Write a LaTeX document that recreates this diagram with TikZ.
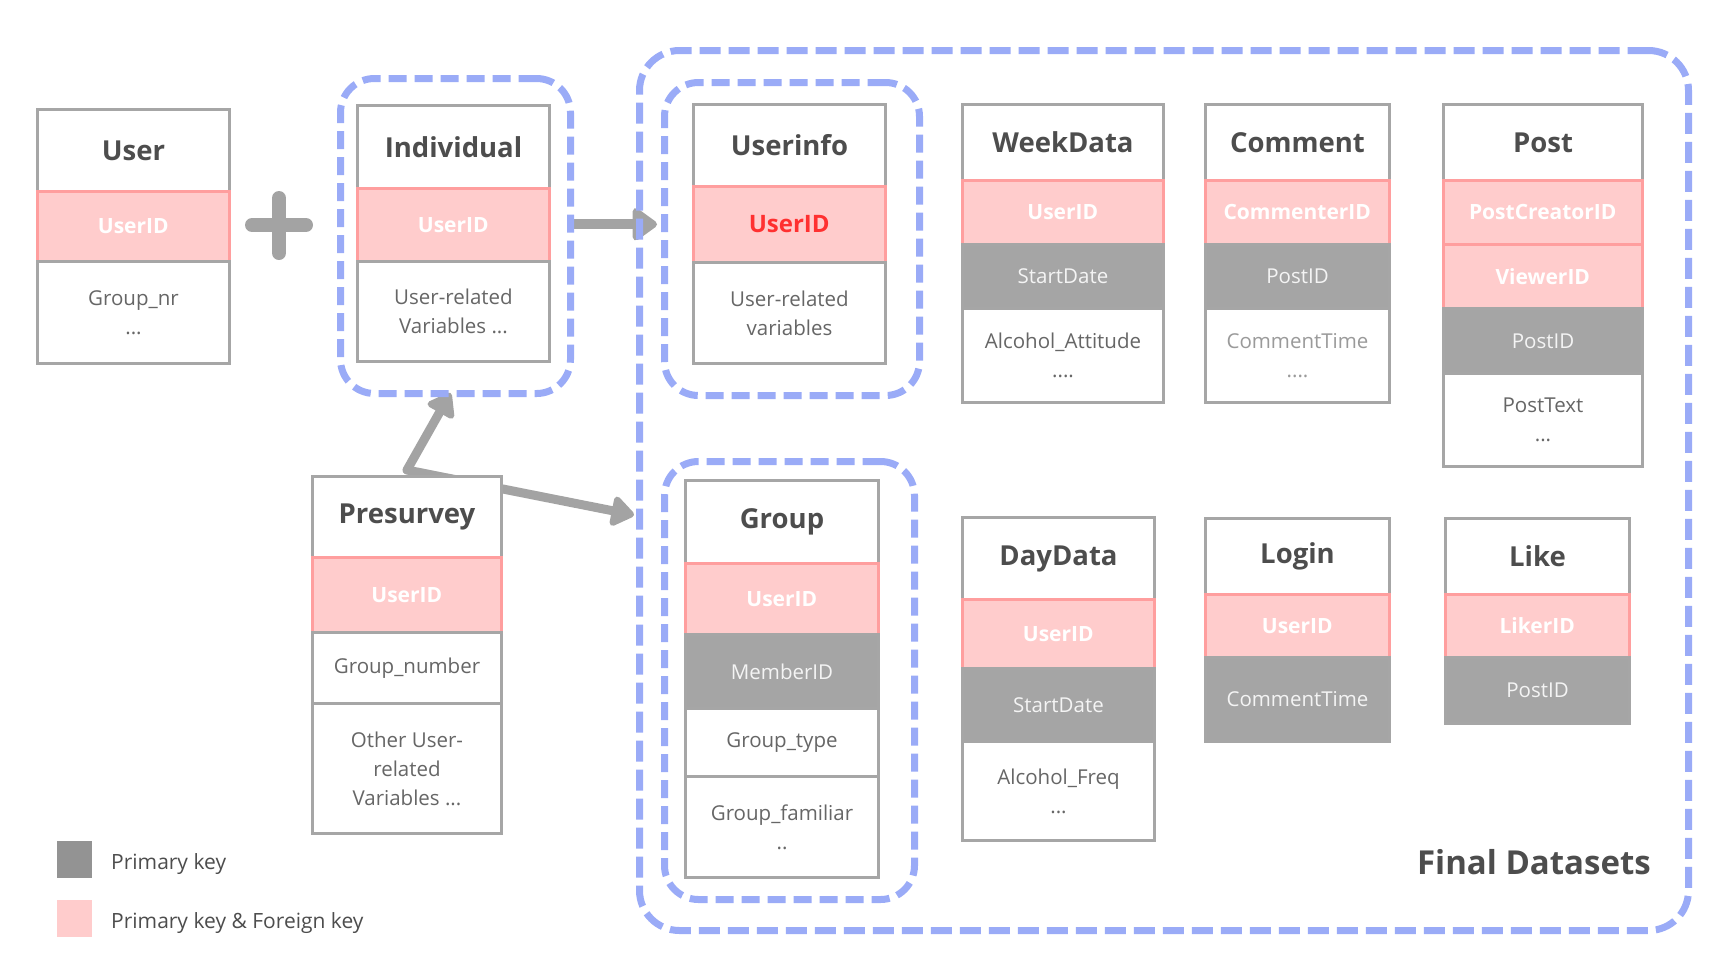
\documentclass[tikz,border=0pt]{standalone}
\usepackage{fontspec}
\setmainfont{Open Sans}
\usetikzlibrary{arrows.meta,calc,backgrounds}
\definecolor{headtext}{HTML}{4D4D4D}
\definecolor{bordergray}{HTML}{A6A6A6}
\definecolor{grayfill}{HTML}{A5A5A5}
\definecolor{pinkfill}{HTML}{FFCCCC}
\definecolor{pinkborder}{HTML}{FF9E9E}
\definecolor{bodytext}{HTML}{666666}
\definecolor{lighttext}{HTML}{9A9A9A}
\definecolor{dashblue}{HTML}{9AABF7}
\definecolor{legendgray}{HTML}{939393}
\definecolor{arrowgray}{HTML}{A3A3A3}
\definecolor{idred}{HTML}{FF3030}
\definecolor{rowtext}{HTML}{F4F4F4}
\newcommand{\cell}[7]{\node[#1, minimum width=#5pt, minimum height=#6pt] (#2) at (#3,#4) {#7};}
\tikzset{
  cellbase/.style={anchor=north west, inner sep=0pt, align=center},
  hdr/.style={cellbase, draw=bordergray, line width=3pt, fill=white, text=headtext, font=\bfseries\fontsize{27.5}{32}\selectfont},
  pk/.style={cellbase, draw=pinkborder, line width=2.5pt, fill=pinkfill, text=white, font=\bfseries\fontsize{21}{29}\selectfont},
  gk/.style={cellbase, draw=bordergray, line width=3pt, fill=grayfill, text=rowtext, font=\fontsize{20.5}{29}\selectfont},
  bd/.style={cellbase, draw=bordergray, line width=3pt, fill=white, text=bodytext, font=\fontsize{20.5}{29}\selectfont},
  groupbox/.style={anchor=north west, inner sep=0pt, draw=dashblue, line width=7pt, rounded corners=34pt, dash pattern=on 18pt off 8pt},
  finalbox/.style={anchor=north west, inner sep=0pt, draw=dashblue, line width=7pt, rounded corners=40pt, dash pattern=on 21pt off 8pt},
  bigarrow/.style={draw=arrowgray, line width=10pt, line cap=round, -{Triangle[length=27pt,width=37pt,round]}},
  midarrow/.style={draw=arrowgray, line width=9pt, line cap=round, -{Triangle[length=25pt,width=34pt,round]}},
  legendbox/.style={anchor=north west, inner sep=0pt, minimum width=35pt, minimum height=37pt},
  legendtext/.style={anchor=base west, inner sep=0pt, text=headtext, font=\fontsize{21}{25}\selectfont},
}
\begin{document}
\begin{tikzpicture}[x=1pt,y=-1pt]
\useasboundingbox (0,0) rectangle (1722,962);

% dashed group boxes
\node[finalbox, minimum width=1049pt, minimum height=880pt] (final) at (636,47) {};
\node[groupbox, minimum width=230pt, minimum height=315pt] (inddash) at (337,75) {};
\node[groupbox, minimum width=255pt, minimum height=313pt] (uidash) at (661,79) {};
\node[groupbox, minimum width=250pt, minimum height=438pt] (grpdash) at (661,458) {};

% User
\cell{hdr}{user-h}{36}{108}{192}{82}{User}
\cell{pk}{user-pk}{36}{190}{192}{70}{UserID}
\cell{bd}{user-b}{36}{260}{192}{102}{Group\_nr\\...}

% plus sign
\draw[arrowgray, line width=14pt, line cap=round] (252,225) -- (306,225) (279,198) -- (279,253);

% Individual
\cell{hdr}{ind-h}{356}{104}{192}{83}{Individual}
\cell{pk}{ind-pk}{356}{187}{192}{73}{UserID}
\cell{bd}{ind-b}{356}{260}{192}{100}{User-related\\Variables ...}

% Userinfo
\cell{hdr}{ui-h}{692}{103}{192}{82}{Userinfo}
\cell{pk, text=idred, font=\bfseries\fontsize{24}{29}\selectfont}{ui-pk}{692}{185}{192}{76}{UserID}
\cell{bd}{ui-b}{692}{261}{192}{101}{User-related\\variables}

% WeekData
\cell{hdr}{wd-h}{961}{103}{201}{76}{WeekData}
\cell{pk}{wd-pk}{961}{179}{201}{64}{UserID}
\cell{gk}{wd-g}{961}{243}{201}{64}{StartDate}
\cell{bd}{wd-b}{961}{307}{201}{94}{Alcohol\_Attitude\\....}

% Comment
\cell{hdr}{cm-h}{1204}{103}{184}{76}{Comment}
\cell{pk}{cm-pk}{1204}{179}{184}{64}{CommenterID}
\cell{gk}{cm-g}{1204}{243}{184}{64}{PostID}
\cell{bd, text=lighttext}{cm-b}{1204}{307}{184}{94}{CommentTime\\....}

% Post
\cell{hdr}{po-h}{1442}{103}{199}{76}{Post}
\cell{pk}{po-pk1}{1442}{179}{199}{64}{PostCreatorID}
\cell{pk}{po-pk2}{1442}{243}{199}{64}{ViewerID}
\cell{gk}{po-g}{1442}{307}{199}{65}{PostID}
\cell{bd}{po-b}{1442}{372}{199}{93}{PostText\\...}

% Presurvey
\cell{hdr}{pres-h}{311}{475}{189}{81}{Presurvey}
\cell{pk}{pres-pk}{311}{556}{189}{75}{UserID}
\cell{bd}{pres-b1}{311}{631}{189}{71}{Group\_number}
\cell{bd}{pres-b2}{311}{702}{189}{130}{Other User-\\related\\Variables ...}

% Group
\cell{hdr}{gr-h}{684}{479}{193}{83}{Group}
\cell{pk}{gr-pk}{684}{562}{193}{71}{UserID}
\cell{gk}{gr-g}{684}{633}{193}{74}{MemberID}
\cell{bd}{gr-b1}{684}{707}{193}{68}{Group\_type}
\cell{bd}{gr-b2}{684}{775}{193}{101}{Group\_familiar\\..}

% DayData
\cell{hdr}{dd-h}{961}{516}{192}{82}{DayData}
\cell{pk}{dd-pk}{961}{598}{192}{69}{UserID}
\cell{gk}{dd-g}{961}{667}{192}{73}{StartDate}
\cell{bd}{dd-b}{961}{740}{192}{99}{Alcohol\_Freq\\...}

% Login
\cell{hdr}{lg-h}{1204}{517}{184}{76}{Login}
\cell{pk}{lg-pk}{1204}{593}{184}{63}{UserID}
\cell{gk}{lg-g}{1204}{656}{184}{84}{CommentTime}

% Like
\cell{hdr}{lk-h}{1444}{517}{184}{76}{Like}
\cell{pk}{lk-pk}{1444}{593}{184}{63}{LikerID}
\cell{gk}{lk-g}{1444}{656}{184}{66}{PostID}

% Final Datasets label
\node[anchor=base east, inner sep=0pt, text=headtext, font=\bfseries\fontsize{33}{38}\selectfont] (finallabel) at (1651,874) {Final Datasets};

% legend
\node[legendbox, fill=legendgray] (leg-pk) at (57,841) {};
\node[legendbox, fill=pinkfill] (leg-pkfk) at (57,900) {};
\node[legendtext] (leg-pk-t) at (111,869) {Primary key};
\node[legendtext] (leg-pkfk-t) at (111,928) {Primary key \& Foreign key};

% connectors (behind the dashed boxes)
\coordinate (pj) at ([yshift=5pt]pres-h.north);
\coordinate (ptip) at (634,515);
\begin{pgfonlayer}{background}
\draw[bigarrow, shorten >=4pt] (inddash.east |- ui-pk.center) -- (uidash.west |- ui-pk.center);
\draw[midarrow] (pj) -- ([xshift=-5pt,yshift=4pt]inddash.south);
\draw[midarrow] (pj) -- (ptip);
\end{pgfonlayer}
\end{tikzpicture}
\end{document}
